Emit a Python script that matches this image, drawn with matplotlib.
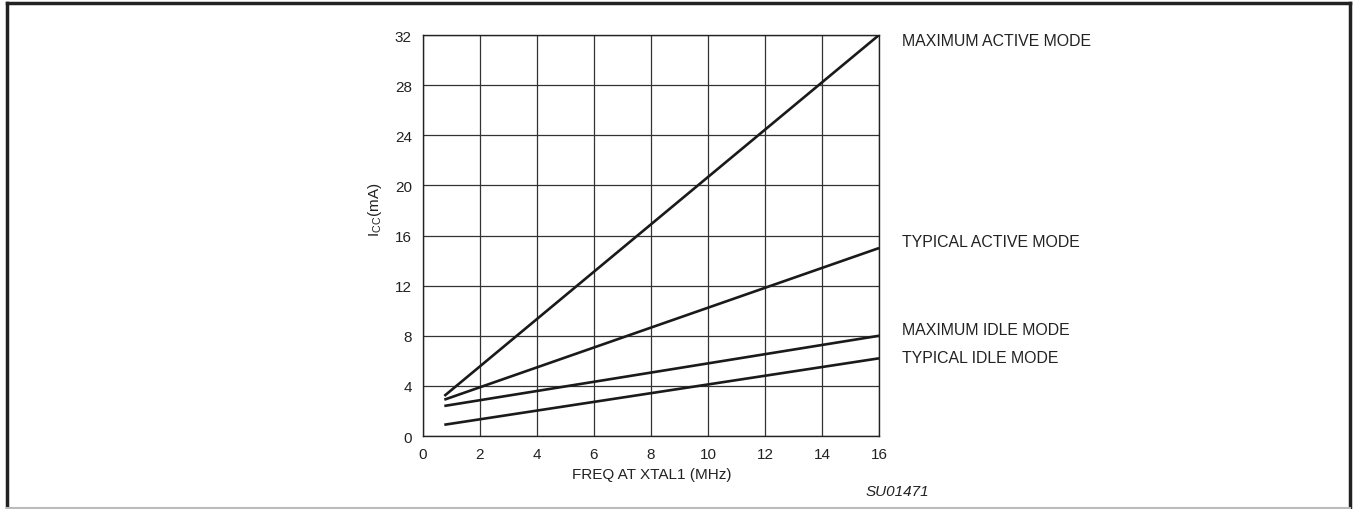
import matplotlib
matplotlib.use("Agg")
from matplotlib import pyplot as plt
from matplotlib.lines import Line2D

# font setup - Arial-like
plt.rcParams['font.family'] = ['Liberation Sans', 'DejaVu Sans']
plt.rcParams['mathtext.fontset'] = 'custom'
plt.rcParams['mathtext.rm'] = 'Liberation Sans'

# data (start and end of each straight line)
freq = [0.75, 16]
max_active = [3.2, 32.0]
typ_active = [2.9, 15.0]
max_idle = [2.4, 8.0]
typ_idle = [0.9, 6.2]

series_labels = ['MAXIMUM ACTIVE MODE', 'TYPICAL ACTIVE MODE',
                 'MAXIMUM IDLE MODE', 'TYPICAL IDLE MODE']
label_y = [31.6, 15.5, 8.5, 6.3]

x_ticks = [0, 2, 4, 6, 8, 10, 12, 14, 16]
y_ticks = [0, 4, 8, 12, 16, 20, 24, 28, 32]

fig = plt.figure(figsize=(13.53, 5.10), dpi=100)
ax = fig.add_axes([0.3126, 0.1431, 0.3371, 0.7863])

for ys in [max_active, typ_active, max_idle, typ_idle]:
    ax.plot(freq, ys, color='#1a1a1a', linewidth=1.9, solid_capstyle='butt', zorder=3)

ax.set_xlim(0, 16)
ax.set_ylim(0, 32)
ax.set_xticks(x_ticks)
ax.set_yticks(y_ticks)
ax.grid(True, color='#333333', linewidth=0.9)
ax.tick_params(length=0, labelsize=11, colors='#222222', pad=8)
for s in ax.spines.values():
    s.set_color('#222222')
    s.set_linewidth(1.0)

# series labels to the right of the plot
for lab, yv in zip(series_labels, label_y):
    ax.text(16.8, yv, lab, fontsize=11.4, color='#222222', va='center', ha='left',
            clip_on=False)

fig.text(0.277, 0.588, r'I$_{\mathrm{CC}}$(mA)', rotation=90, fontsize=11,
         color='#222222', ha='center', va='center')
fig.text(0.482, 0.068, 'FREQ AT XTAL1 (MHz)', fontsize=11, color='#222222',
         ha='center', va='center')
fig.text(0.687, 0.035, 'SU01471', fontsize=11, style='italic', color='#222222',
         ha='right', va='center')

# frame around the figure
W, H = 1353.0, 510.0
fig.add_artist(Line2D([7 / W, 7 / W], [0, 1 - 4 / H], color='#222222', linewidth=2.5))
fig.add_artist(Line2D([7 / W, 1350 / W], [1 - 4 / H, 1 - 4 / H], color='#222222', linewidth=2.5))
fig.add_artist(Line2D([1350 / W, 1350 / W], [1 - 4 / H, 0], color='#222222', linewidth=2.5))
fig.add_artist(Line2D([7 / W, 1350 / W], [1.5 / H, 1.5 / H], color='#bbbbbb', linewidth=1.5))

fig.savefig('out.png', dpi=100)
